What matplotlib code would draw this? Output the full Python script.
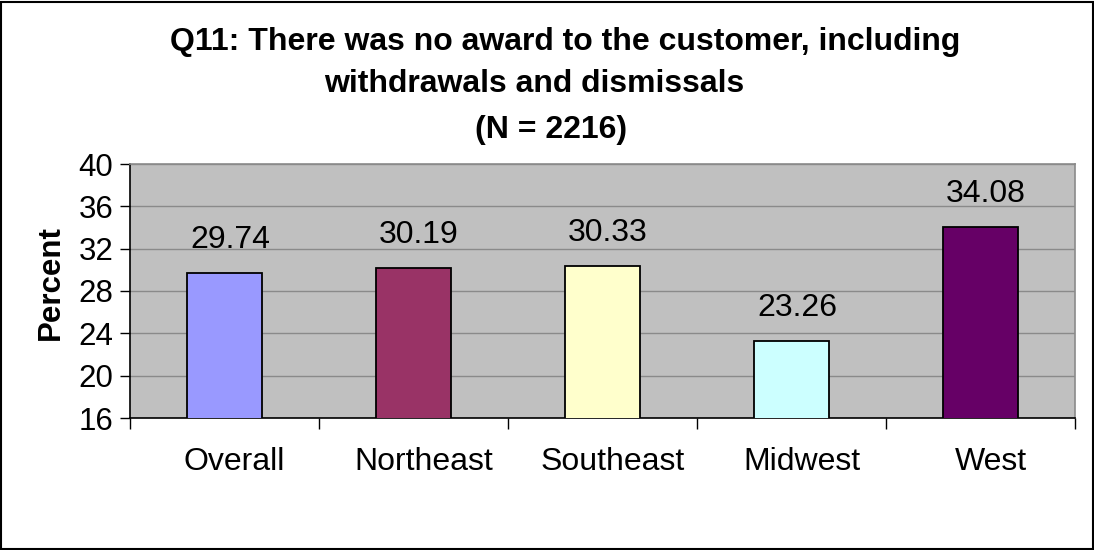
import matplotlib
matplotlib.use("Agg")
import matplotlib.pyplot as plt
import matplotlib.transforms as mtransforms
from matplotlib.patches import Rectangle

categories = ["Overall", "Northeast", "Southeast", "Midwest", "West"]
values = [29.74, 30.19, 30.33, 23.26, 34.08]
colors = ["#9999FF", "#993366", "#FFFFCC", "#CCFFFF", "#660066"]
yticks = [16, 20, 24, 28, 32, 36, 40]
title_lines = ["Q11: There was no award to the customer, including",
               "withdrawals and dismissals",
               "(N = 2216)"]
ylabel = "Percent"

plt.rcParams['font.family'] = ['Liberation Sans', 'DejaVu Sans']

W, H = 1094, 550
fig = plt.figure(figsize=(W / 100, H / 100), dpi=100)
fig.patch.set_facecolor("white")

ax = fig.add_axes([130 / W, 1 - 418 / H, (1075 - 130) / W, (418 - 164) / H])
ax.set_facecolor("#C0C0C0")

FS = 23
x = list(range(len(categories)))
ax.bar(x, values, width=0.40, color=colors, edgecolor="black", linewidth=1.3, zorder=3)
ax.set_xlim(-0.5, len(categories) - 0.5)
ax.set_ylim(16, 40)
ax.set_yticks(yticks)
ax.set_yticklabels([str(t) for t in yticks], fontsize=22.5)
ax.yaxis.grid(True, color="#8A8A8A", linewidth=1.0, zorder=0)
ax.set_axisbelow(True)

# x ticks at category boundaries, labels at category centers
ax.set_xticks([i - 0.5 for i in range(len(categories) + 1)])
ax.set_xticklabels([])
ax.set_xticks(x, minor=True)
ax.set_xticklabels(categories, minor=True, fontsize=FS)
ax.tick_params(axis="x", which="major", direction="out", length=8, width=1, color="black")
ax.tick_params(axis="x", which="minor", length=0, pad=21)
ax.tick_params(axis="y", direction="out", length=7, width=1, color="black", pad=5)

shift = mtransforms.ScaledTranslation(10 / 100, 0, fig.dpi_scale_trans)
for lbl in ax.get_xticklabels(minor=True):
    lbl.set_transform(lbl.get_transform() + shift)

for s in ["left", "bottom"]:
    ax.spines[s].set_color("black")
    ax.spines[s].set_linewidth(1.2)
for s in ["top", "right"]:
    ax.spines[s].set_color("#8A8A8A")
    ax.spines[s].set_linewidth(1.2)

for xi, v in zip(x, values):
    ax.annotate(f"{v:.2f}", (xi, v), xytext=(4, 13), textcoords="offset points",
                ha="center", va="bottom", fontsize=FS)

fig.text(565 / W, 1 - 42 / H, title_lines[0], ha="center", va="center",
         fontsize=FS, fontweight="bold")
fig.text(534 / W, 1 - 84 / H, title_lines[1], ha="center", va="center",
         fontsize=FS, fontweight="bold")
fig.text(551 / W, 1 - 130 / H, title_lines[2], ha="center", va="center",
         fontsize=FS, fontweight="bold")
fig.text(51 / W, 1 - 283 / H, ylabel, ha="center", va="center", rotation=90,
         fontsize=22.5, fontweight="bold")

fig.patches.append(Rectangle((1 / W, 1 / H), (W - 2) / W, (H - 3) / H,
                             transform=fig.transFigure, fill=False,
                             edgecolor="black", linewidth=1.5))

fig.savefig("out.png", dpi=100)
